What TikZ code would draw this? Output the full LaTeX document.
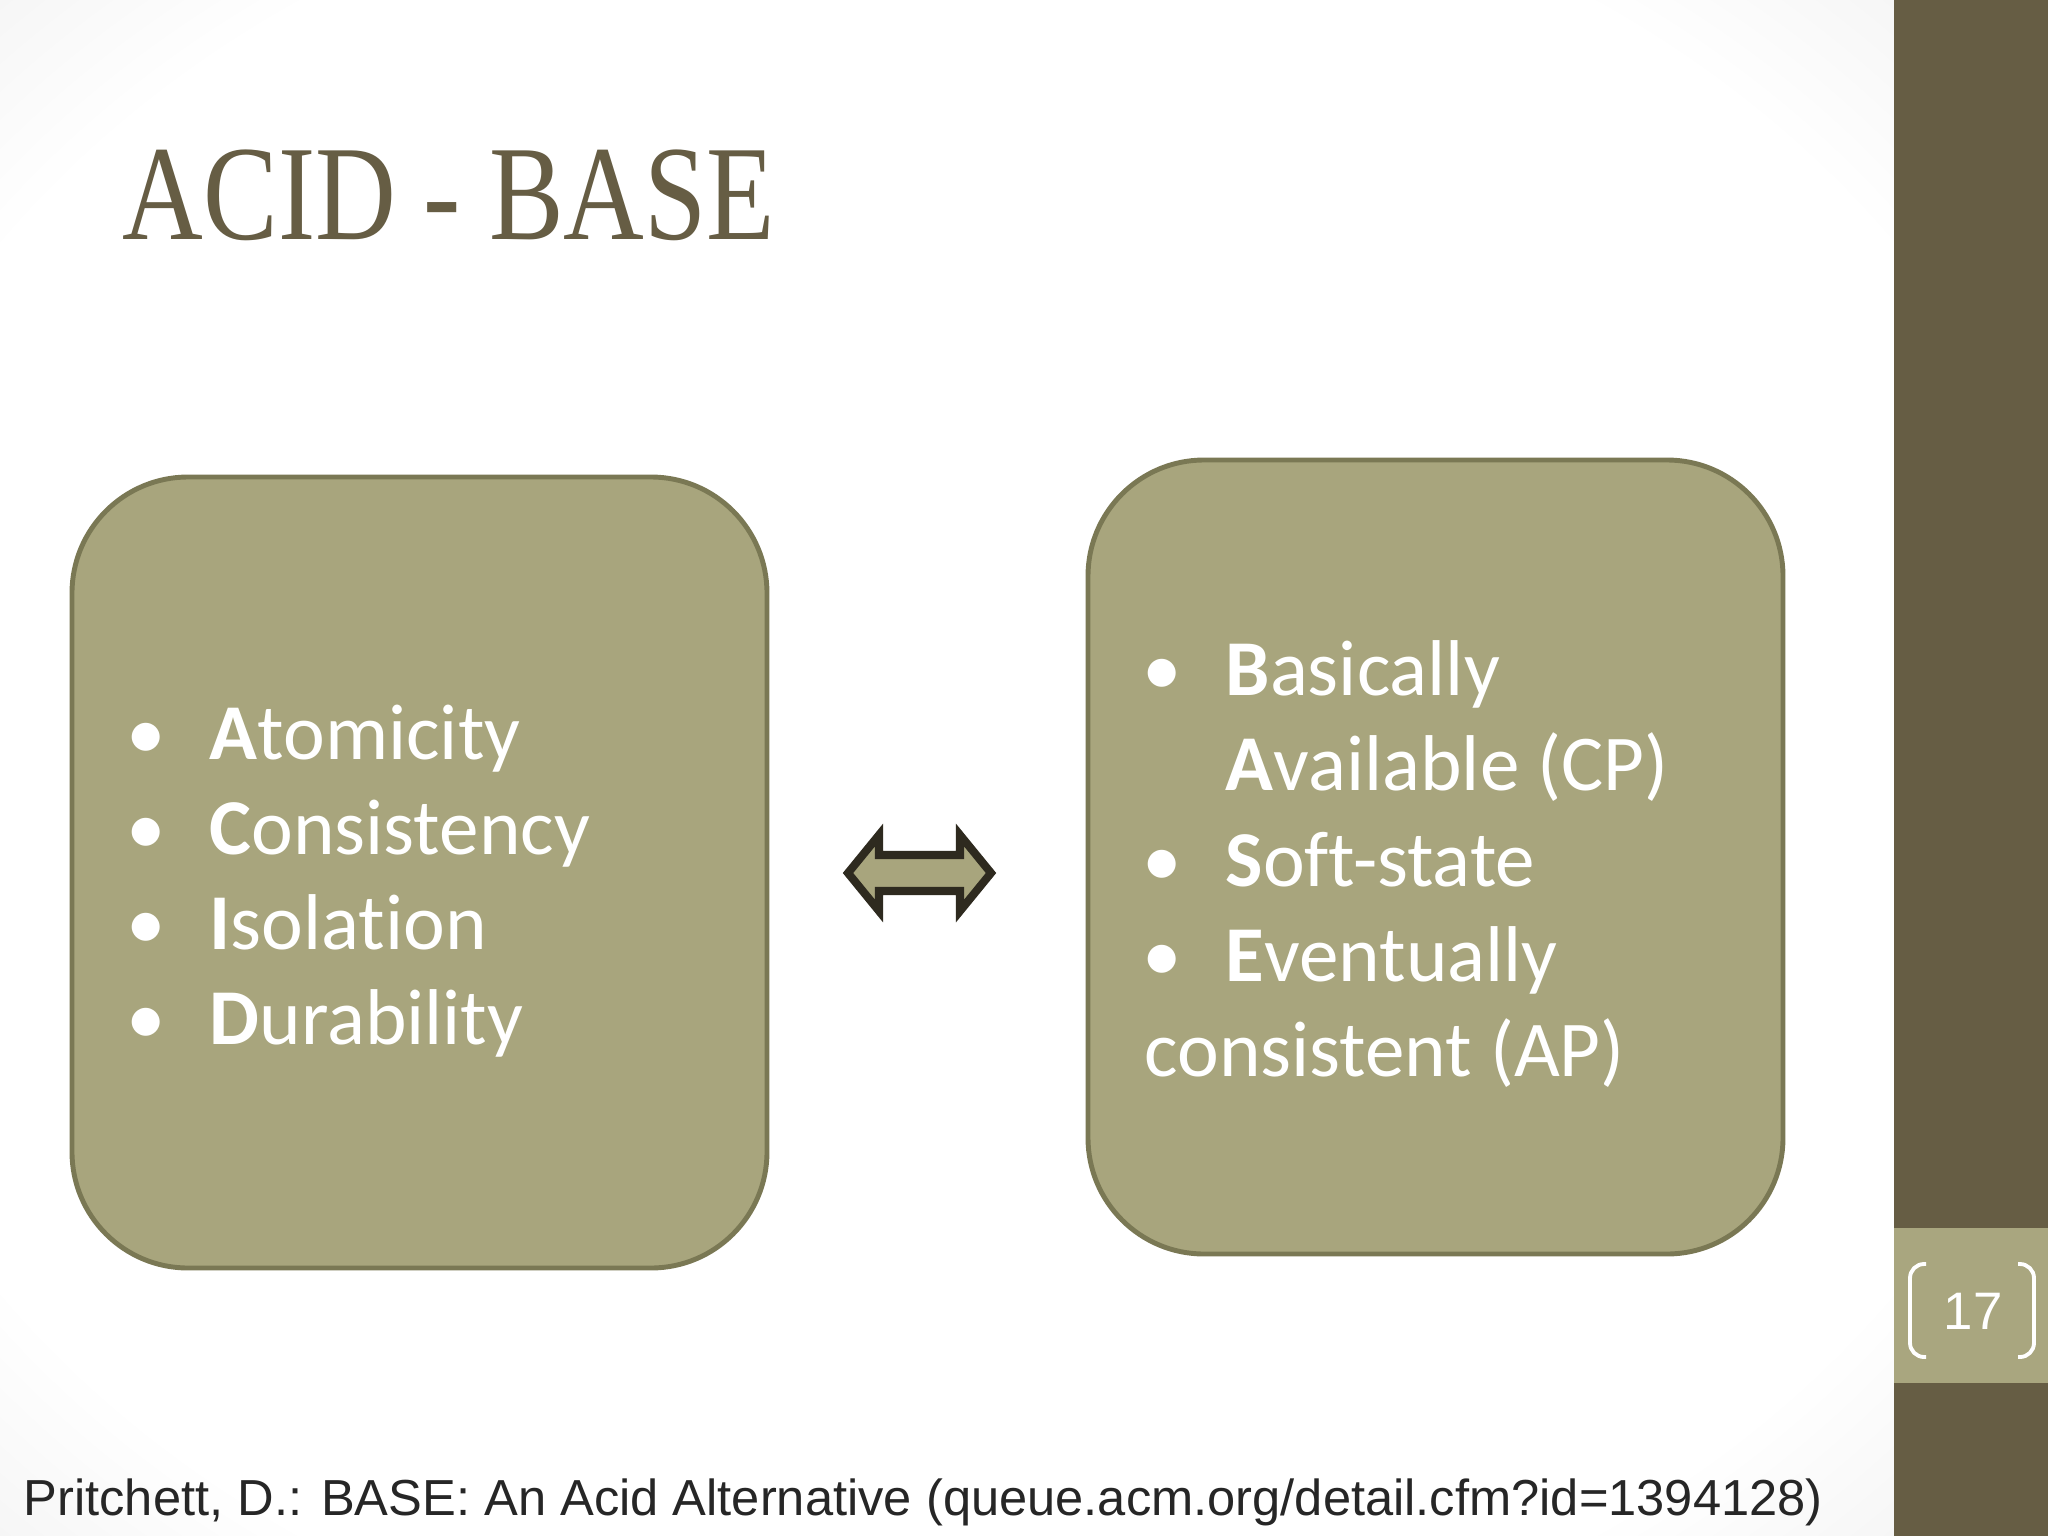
\documentclass[tikz,border=0pt]{standalone}
\usepackage{fontspec}
\setmainfont[Ligatures=CommonOff]{Carlito}
\newfontfamily\titlefont[FakeStretch=0.826]{Liberation Serif}
\newfontfamily\footfont{Liberation Sans}
\definecolor{boxfill}{HTML}{A8A57D}
\definecolor{boxline}{HTML}{7A7854}
\definecolor{darkolive}{HTML}{665D44}
\definecolor{bandolive}{HTML}{A9A67F}
\definecolor{arrline}{HTML}{2E2A1F}
\pgfdeclareradialshading{vign}{\pgfpoint{0bp}{0bp}}{color(0bp)=(white); color(30bp)=(white); color(50bp)=(black!13); color(100bp)=(black!16)}
\tikzset{
  panel/.style={draw=boxline, fill=boxfill, line width=1.4pt, rounded corners=33pt},
  item/.style={anchor=base west, inner sep=0pt, text=white, font=\fontsize{22.5}{27}\selectfont},
  bul/.style={anchor=base, inner sep=0pt, text=white, font=\fontsize{22.5}{27}\selectfont},
  brk/.style={draw=white, line width=1.1pt, rounded corners=4pt}
}
\begin{document}
\begin{tikzpicture}[x=0.01cm, y=-0.01cm]
\useasboundingbox (0,0) rectangle (2048,1536);
% background
\shade[shading=vign] (0,0) rectangle (1894,1536);
\fill[darkolive] (1894,0) rectangle (2048,1536);
\fill[bandolive] (1894,1228) rectangle (2048,1383);
% title
\node[anchor=base west, inner sep=0pt, text=darkolive, font=\titlefont\fontsize{38.5}{44}\selectfont] (title) at (122,239) {ACID - BASE};
% boxes
\draw[panel] (72,477) rectangle (767,1268);
\draw[panel] (1088,460) rectangle (1783,1254);
\coordinate (acid) at (419,872);
\coordinate (base) at (1435,857);
% left list
\foreach \i/\t [count=\k] in {A/tomicity, C/onsistency, I/solation, D/urability}{
  \node[bul] (lb\k) at (146,{759+95.3*(\k-1)}) {•};
  \node[item] (li\k) at (209,{759+95.3*(\k-1)}) {\textbf{\i}\t};
}
% right list
\node[bul] (rb1) at (1162,695) {•};
\node[item] (ri1) at (1225,695) {\textbf{B}asically};
\node[item] (ri2) at (1225,790) {\textbf{A}vailable (CP)};
\node[bul] (rb3) at (1162,886) {•};
\node[item] (ri3) at (1225,886) {\textbf{S}oft-state};
\node[bul] (rb4) at (1162,981) {•};
\node[item] (ri4) at (1225,981) {\textbf{E}ventually};
\node[item] (ri5) at (1144,1076) {consistent (AP)};
% double arrow
\coordinate (ltip) at (848,873);
\coordinate (rtip) at (991,873);
\draw[fill=boxfill, draw=arrline, line width=2.3pt, line join=miter]
  (ltip) -- (879,835) -- (879,855) -- (960,855) -- (960,835) -- (rtip)
  -- (960,911) -- (960,891) -- (879,891) -- (879,911) -- cycle;
% page number
\draw[brk] (1926,1264) -- (1910,1264) -- (1910,1357) -- (1926,1357);
\draw[brk] (2018,1264) -- (2034,1264) -- (2034,1357) -- (2018,1357);
\node[text=white, font=\footfont\fontsize{15}{18}\selectfont] (pg) at (1973,1311) {17};
% footer
\node[anchor=base west, inner sep=0pt, text=black!85, font=\footfont\fontsize{14.4}{17}\selectfont] (foot) at (23,1515) {Pritchett, D.: BASE: An Acid Alternative (queue.acm.org/detail.cfm?id=1394128)};
\end{tikzpicture}
\end{document}
